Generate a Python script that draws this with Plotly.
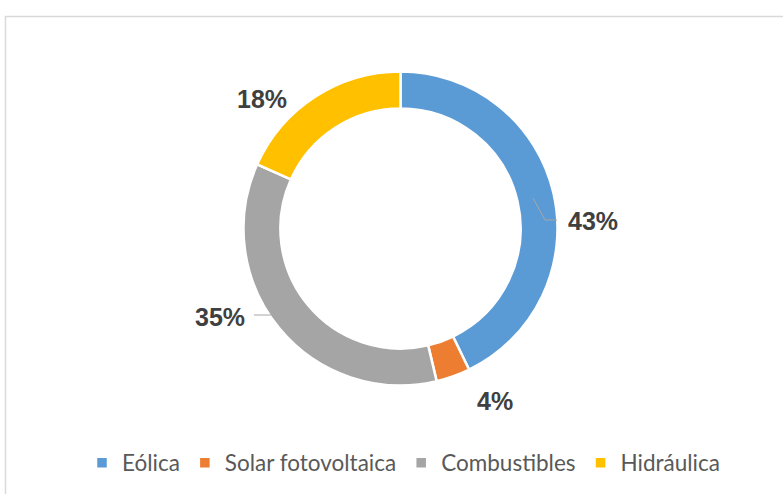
import plotly.graph_objects as go

# ---- data ----
categories = ["Eólica", "Solar fotovoltaica", "Combustibles", "Hidráulica"]
values = [42.8, 3.5, 35.4, 18.3]
colors = ["#5B9BD5", "#ED7D31", "#A5A5A5", "#FFC000"]

W, H = 783, 494
cx, cy, R = 400.5, 228.5, 157


def px(x):
    return x / W


def py(y):
    return 1 - y / H


fig = go.Figure(
    go.Pie(
        labels=categories,
        values=values,
        sort=False,
        direction="clockwise",
        rotation=0,
        hole=0.765,
        marker=dict(colors=colors, line=dict(color="white", width=2.5)),
        textinfo="none",
        hoverinfo="label+percent",
        domain=dict(x=[px(cx - R), px(cx + R)], y=[py(cy + R), py(cy - R)]),
    )
)

# data-label placement (pixel positions of each label's centre)
label_pos = [(592.5, 221), (495, 401), (220, 316.5), (261.5, 99)]
total = sum(values)
for v, (lx, ly) in zip(values, label_pos):
    fig.add_annotation(
        x=px(lx), y=py(ly), xref="paper", yref="paper",
        text=f"<b>{round(v / total * 100)}%</b>", showarrow=False,
        xanchor="center", yanchor="middle",
        font=dict(family="Liberation Sans, Arial, sans-serif", size=25, color="#404040"),
    )

lead = dict(color="#A6A6A6", width=1)
# leader lines
fig.add_shape(type="path", xref="paper", yref="paper",
              path=f"M {px(533)},{py(198)} L {px(545)},{py(220)} L {px(557)},{py(220)}",
              line=lead)
fig.add_shape(type="line", xref="paper", yref="paper",
              x0=px(254), y0=py(315), x1=px(271), y1=py(315), line=lead)

# chart frame
fig.add_shape(type="rect", xref="paper", yref="paper",
              x0=px(5.5), y0=-0.05, x1=1.05, y1=py(16.5),
              line=dict(color="#D9D9D9", width=1.5), layer="below")

fig.update_layout(
    width=W, height=H,
    margin=dict(l=0, r=0, t=0, b=0),
    paper_bgcolor="white", plot_bgcolor="white",
    showlegend=True,
    legend=dict(
        orientation="h", x=px(82), xanchor="left", y=py(463), yanchor="middle",
        font=dict(family="Lato, Calibri, sans-serif", size=22.5, color="#595959"),
        itemwidth=30, traceorder="normal",
    ),
)

fig.write_html("out.html", config={"displayModeBar": False},
               post_script="document.body.style.margin='0';")
